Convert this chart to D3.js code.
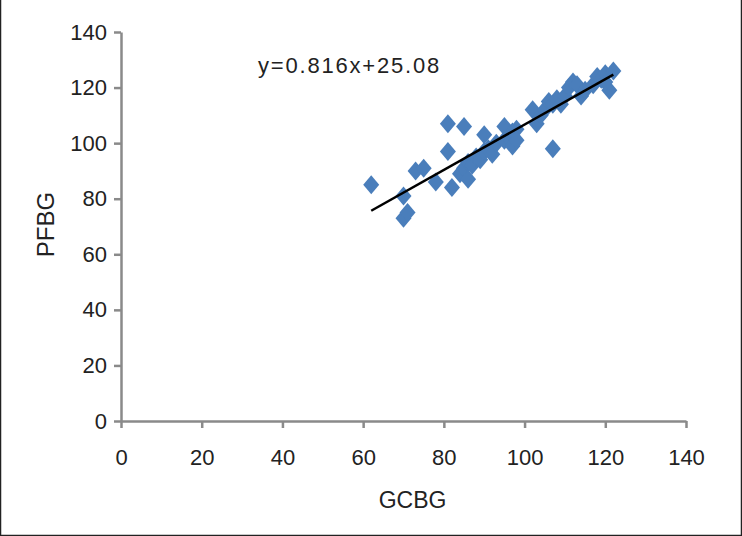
<!DOCTYPE html>
<html>
<head>
<meta charset="utf-8">
<script src="https://cdn.jsdelivr.net/npm/d3@7"></script>
<style>
  body { margin: 0; background: #fff; }
  svg { display: block; font-family: "Liberation Sans", Arial, sans-serif; }
</style>
</head>
<body>
<script>
// GCBG (x) and PFBG (y) readings, one pair per patient
var gcbg = [62, 70, 70, 71, 73, 75, 78, 81, 81, 82, 85, 84, 85, 86, 86, 87,
            90, 88, 89, 90, 91, 92, 95, 93, 95, 96, 97, 97, 98, 98, 107,
            102, 103, 104, 105, 106, 107, 108, 109, 110,
            111, 112, 113, 114, 115, 117, 118, 119, 120, 121, 122, 120];
var pfbg = [85, 81, 73, 75, 90, 91, 86, 107, 97, 84, 106, 89, 91, 87, 93, 92,
            103, 95, 94, 97, 98, 96, 106, 100, 101, 102, 99, 104, 105, 101, 98,
            112, 107, 110, 112, 115, 114, 116, 114, 117,
            120, 122, 121, 117, 119, 121, 124, 123, 125, 119, 126, 122];
var xTicks = [0, 20, 40, 60, 80, 100, 120, 140];
var yTicks = [0, 20, 40, 60, 80, 100, 120, 140];
var slope = 0.816, intercept = 25.08;
var fitRange = [62, 122];

var W = 742, H = 536;
var margin = {top: 32, right: 56, bottom: 115, left: 121};
var width = W - margin.left - margin.right;
var height = H - margin.top - margin.bottom;

var svg = d3.select("body").append("svg")
    .attr("width", W)
    .attr("height", H);

// picture frame
svg.append("path")
    .attr("d", "M0.5,0 V535.5 H741.5 V0")
    .attr("fill", "none")
    .attr("stroke", "#222")
    .attr("stroke-width", 1.5);

var g = svg.append("g")
    .attr("transform", "translate(" + margin.left + "," + margin.top + ")");

var x = d3.scaleLinear().domain([0, 140]).range([0, width]);
var y = d3.scaleLinear().domain([0, 140]).range([height, 0]);

var data = gcbg.map((d, i) => ({x: d, y: pfbg[i]}));

// axes
var xAxis = d3.axisBottom(x).tickValues(xTicks).tickSize(7).tickSizeOuter(0).tickPadding(21);
var yAxis = d3.axisLeft(y).tickValues(yTicks).tickSize(7).tickSizeOuter(0).tickPadding(7);

var gx = g.append("g")
    .attr("transform", "translate(0," + height + ")")
    .call(xAxis);
var gy = g.append("g").call(yAxis);

[gx, gy].forEach(a => {
    a.attr("font-size", null);
    a.select(".domain").attr("stroke", "#8a8a8a").attr("stroke-width", 2.5);
    a.selectAll(".tick line").attr("stroke", "#8a8a8a").attr("stroke-width", 2.5);
    a.selectAll(".tick text")
        .attr("fill", "#222")
        .style("font-size", "22px")
        .attr("font-family", "Liberation Sans, Arial, sans-serif");
});

// diamond markers
g.selectAll(".pt")
    .data(data)
    .enter()
    .append("path")
    .attr("class", "pt")
    .attr("transform", d => "translate(" + x(d.x) + "," + y(d.y) + ")")
    .attr("d", "M0,-9.5 L8,0 L0,9.5 L-8,0 Z")
    .attr("fill", "#4a7ebb");

// linear fit
g.append("line")
    .attr("x1", x(fitRange[0]))
    .attr("y1", y(slope * fitRange[0] + intercept))
    .attr("x2", x(fitRange[1]))
    .attr("y2", y(slope * fitRange[1] + intercept))
    .attr("stroke", "#000")
    .attr("stroke-width", 2.5);

g.append("text")
    .attr("x", 137)
    .attr("y", 41)
    .attr("font-size", "22px")
    .attr("letter-spacing", "1.8px")
    .attr("fill", "#222")
    .text("y=0.816x+25.08");

// axis titles
g.append("text")
    .attr("x", width / 2 + 9)
    .attr("y", height + 87)
    .attr("text-anchor", "middle")
    .attr("font-size", "23px")
    .attr("fill", "#222")
    .text("GCBG");

g.append("text")
    .attr("transform", "rotate(-90)")
    .attr("x", -(height / 2) + 2)
    .attr("y", -67)
    .attr("text-anchor", "middle")
    .attr("font-size", "24px")
    .attr("fill", "#222")
    .text("PFBG");
</script>
</body>
</html>
